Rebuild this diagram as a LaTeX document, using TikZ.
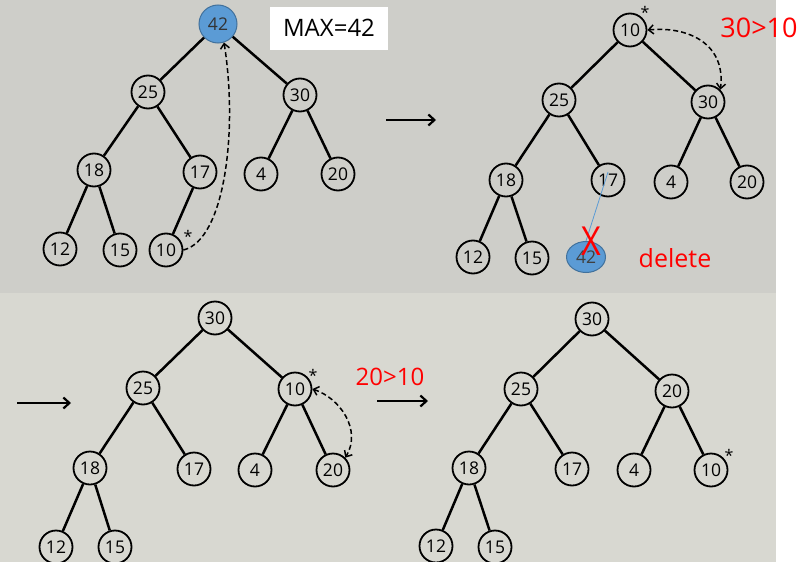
\documentclass[tikz,border=0pt]{standalone}
\usepackage{fontspec}
\setmainfont{Open Sans}
\usetikzlibrary{arrows.meta,shapes.geometric}
\definecolor{papertop}{RGB}{206,206,201}
\definecolor{paperbot}{RGB}{216,216,209}
\definecolor{hblue}{RGB}{91,155,213}
\definecolor{hblueb}{RGB}{65,113,156}
\definecolor{hred}{RGB}{255,0,0}
\begin{document}
\begin{tikzpicture}[x=1pt,y=-1pt,
  >={Straight Barb[length=5pt,width=9pt]},
  hn/.style={circle,draw=black,line width=1.8pt,minimum size=33pt,inner sep=0pt,font=\fontsize{17.5}{17.5}\selectfont},
  bluen/.style={hn,fill=hblue,draw=hblueb,line width=1pt,text=black!80},
  edge/.style={line width=2.5pt},
  dasharrow/.style={line width=1.5pt,dash pattern=on 5pt off 3pt},
  panelarrow/.style={line width=2.2pt,-{Straight Barb[length=6pt,width=11pt]}},
  star/.style={inner sep=0pt,font=\fontsize{16}{16}\selectfont},
  redlabel/.style={inner sep=0pt,text=hred}
]
\useasboundingbox (0,0) rectangle (806,562);
\fill[papertop] (0,0) rectangle (776,293);
\fill[paperbot] (0,293) rectangle (776,562);
\fill[white] (776,0) rectangle (806,562);

% ---------- panel 1 ----------
\node[bluen,minimum size=38pt] (a42) at (218,24) {42};
\node[hn] (a25) at (148,92) {25};
\node[hn] (a30) at (300,95) {30};
\node[hn] (a18) at (94,170) {18};
\node[hn] (a17) at (200,172) {17};
\node[hn] (a4) at (261,174) {4};
\node[hn] (a20) at (338,174) {20};
\node[hn] (a12) at (60,249) {12};
\node[hn] (a15) at (120,250) {15};
\node[hn] (a10) at (166,250) {10};
\draw[edge] (a42) -- (a25);
\draw[edge] (a42) -- (a30);
\draw[edge] (a25) -- (a18);
\draw[edge] (a25) -- (a17);
\draw[edge] (a30) -- (a4);
\draw[edge] (a30) -- (a20);
\draw[edge] (a18) -- (a12);
\draw[edge] (a18) -- (a15);
\draw[edge] (a17) -- (a10);
\node[star] (a10s) at (188,236) {*};
\draw[dasharrow,->] (a10.east) .. controls (225,240) and (238,130) .. ([xshift=6pt,yshift=1pt]a42.south);
\node[draw=none,fill=white,minimum width=118pt,minimum height=43pt,inner sep=0pt,
  font=\fontsize{24}{24}\selectfont] (maxbox) at (329,28) {MAX=42};

% arrow 1
\coordinate (ar1s) at (386,120);
\coordinate (ar1e) at (436,120);
\draw[panelarrow] (ar1s) -- (ar1e);

% ---------- panel 2 ----------
\node[hn] (b10) at (630,30) {10};
\node[hn] (b25) at (559,100) {25};
\node[hn] (b30) at (708,102) {30};
\node[hn] (b18) at (506,180) {18};
\node[hn] (b17) at (608,180) {17};
\node[hn] (b4) at (671,182) {4};
\node[hn] (b20) at (747,182) {20};
\node[hn] (b12) at (473,257) {12};
\node[hn] (b15) at (532,258) {15};
\node[ellipse,fill=hblue,draw=hblueb,line width=1pt,minimum width=39pt,minimum height=31pt,inner sep=0pt,
  font=\fontsize{17.5}{17.5}\selectfont,text=black!75] (b42) at (586,257) {42};
\draw[edge] (b10) -- (b25);
\draw[edge] (b10) -- (b30);
\draw[edge] (b25) -- (b18);
\draw[edge] (b25) -- (b17);
\draw[edge] (b30) -- (b4);
\draw[edge] (b30) -- (b20);
\draw[edge] (b18) -- (b12);
\draw[edge] (b18) -- (b15);
\draw[hblue,line width=0.8pt] ([yshift=8pt]b17.center) -- (b42.north);
\node[redlabel,font=\fontsize{40}{40}\selectfont,xscale=0.85] (bx) at (591,241) {X};
\node[star] (b10s) at (645,12) {*};
\draw[dasharrow,<->] (b10.east) .. controls (690,26) and (726,45) .. (b30.north east);
\node[redlabel,font=\fontsize{27}{27}\selectfont] (lab1) at (759,28) {30>10};
\node[redlabel,font=\fontsize{25}{25}\selectfont] (lab2) at (675,258) {delete};

% ---------- panel 3 ----------
\coordinate (ar2s) at (17,403);
\coordinate (ar2e) at (71,403);
\draw[panelarrow] (ar2s) -- (ar2e);
\node[hn] (c30) at (215,318) {30};
\node[hn] (c25) at (143,388) {25};
\node[hn] (c10) at (295,389) {10};
\node[hn] (c18) at (90,468) {18};
\node[hn] (c17) at (194,469) {17};
\node[hn] (c4) at (255,470) {4};
\node[hn] (c20) at (333,470) {20};
\node[hn] (c12) at (56,547) {12};
\node[hn] (c15) at (115,547) {15};
\draw[edge] (c30) -- (c25);
\draw[edge] (c30) -- (c10);
\draw[edge] (c25) -- (c18);
\draw[edge] (c25) -- (c17);
\draw[edge] (c10) -- (c4);
\draw[edge] (c10) -- (c20);
\draw[edge] (c18) -- (c12);
\draw[edge] (c18) -- (c15);
\node[star] (c10s) at (313,375) {*};
\draw[dasharrow,<->] (c10.east) .. controls (340,398) and (362,430) .. (c20.north east);
\node[redlabel,font=\fontsize{24}{24}\selectfont] (lab3) at (390,377) {20>10};

% arrow 4
\coordinate (ar3s) at (377,401);
\coordinate (ar3e) at (428,401);
\draw[panelarrow] (ar3s) -- (ar3e);

% ---------- panel 4 ----------
\node[hn] (d30) at (592,319) {30};
\node[hn] (d25) at (521,389) {25};
\node[hn] (d20) at (672,391) {20};
\node[hn] (d18) at (469,468) {18};
\node[hn] (d17) at (572,469) {17};
\node[hn] (d4) at (634,470) {4};
\node[hn] (d10) at (711,470) {10};
\node[hn] (d12) at (436,546) {12};
\node[hn] (d15) at (495,547) {15};
\draw[edge] (d30) -- (d25);
\draw[edge] (d30) -- (d20);
\draw[edge] (d25) -- (d18);
\draw[edge] (d25) -- (d17);
\draw[edge] (d20) -- (d4);
\draw[edge] (d20) -- (d10);
\draw[edge] (d18) -- (d12);
\draw[edge] (d18) -- (d15);
\node[star] (d10s) at (729,455) {*};
\end{tikzpicture}
\end{document}
